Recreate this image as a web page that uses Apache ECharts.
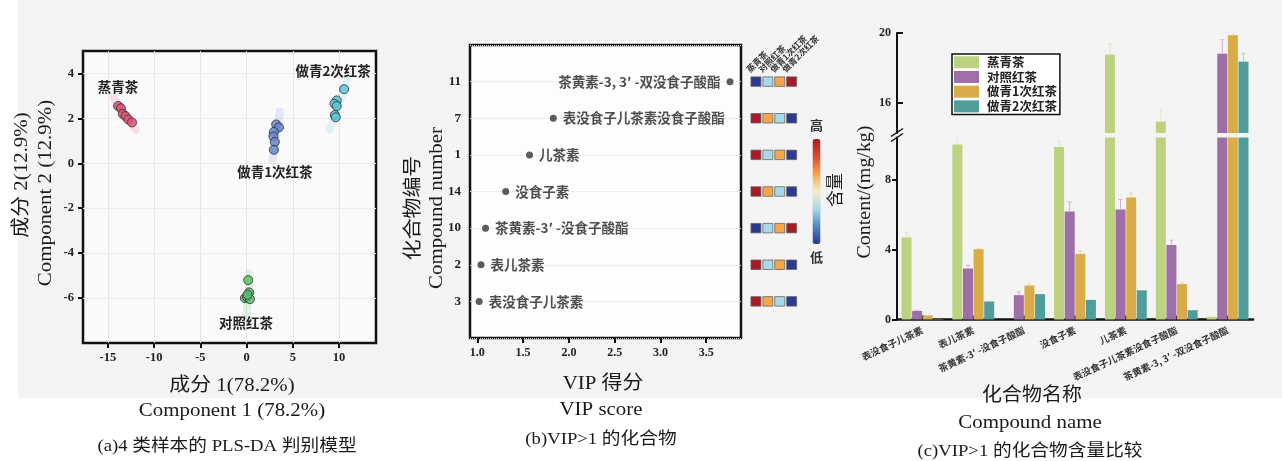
<!DOCTYPE html>
<html><head><meta charset="utf-8">
<script src="https://cdn.jsdelivr.net/npm/echarts@6/dist/echarts.min.js"></script>
<style>html,body{margin:0;padding:0;background:#fff}#c{width:1282px;height:461px}</style>
</head><body><div id="c"></div>
<script>
// ---------------- DATA ----------------
// (a) PLS-DA scores [component1, component2]
const groupNames = ['蒸青茶', '对照红茶', '做青1次红茶', '做青2次红茶'];
const plsSteamed = [[-13.9, 2.55], [-13.6, 2.45], [-13.4, 2.2], [-13.1, 2.1], [-12.8, 1.95], [-12.4, 1.82]];
const plsControl = [[0.17, -5.2], [0.28, -5.75], [-0.18, -6.0], [0.05, -5.95], [0.36, -6.05], [0.1, -5.85]];
const plsOnce = [[3.2, 1.73], [3.5, 1.6], [2.95, 1.4], [2.9, 1.2], [3.05, 0.95], [2.95, 0.6]];
const plsTwice = [[10.55, 3.3], [9.75, 2.8], [9.5, 2.65], [9.75, 2.55], [9.55, 2.15], [9.65, 2.05]];
// faint confidence-region axes (end points)
const ellSteamed = [[-14.4, 2.9], [-12.0, 1.5]];
const ellControl = [[0.0, -6.8], [0.35, -4.9]];
const ellOnce = [[2.8, 0.1], [3.6, 2.3]];
const ellTwice = [[9.0, 1.5], [10.9, 3.7]];
const plsXTicks = [-15, -10, -5, 0, 5, 10];
const plsYTicks = [-6, -4, -2, 0, 2, 4];

// (b) VIP > 1
const vipNumbers = ['3', '2', '10', '14', '1', '7', '11'];
const vipNames = ['表没食子儿茶素', '表儿茶素', '茶黄素-3′ -没食子酸酯', '没食子素', '儿茶素', '表没食子儿茶素没食子酸酯', '茶黄素-3, 3′ -双没食子酸酯'];
const vipScores = [1.02, 1.04, 1.09, 1.31, 1.57, 1.83, 3.76];
const vipXTicks = [1.0, 1.5, 2.0, 2.5, 3.0, 3.5];
// relative content rank (1 = low, 4 = high) per compound, columns = groupNames
const heatRanks = [
  [4, 3, 2, 1],
  [4, 2, 3, 1],
  [1, 2, 3, 4],
  [4, 3, 2, 1],
  [4, 2, 3, 1],
  [4, 3, 2, 1],
  [1, 2, 3, 4]
];

// (c) content, mg/kg
const contentNames = ['表没食子儿茶素', '表儿茶素', '茶黄素-3′ -没食子酸酯', '没食子素', '儿茶素', '表没食子儿茶素没食子酸酯', '茶黄素-3, 3′ -双没食子酸酯'];
const contSteamed = [4.69, 10.0, 0, 9.86, 18.77, 14.95, 0.15];
const contControl = [0.49, 2.91, 1.39, 6.17, 6.29, 4.26, 18.82];
const contOnce = [0.23, 4.02, 1.94, 3.75, 6.97, 2.02, 19.87];
const contTwice = [0.03, 1.03, 1.45, 1.12, 1.67, 0.53, 18.37];
const sdSteamed = [0.26, 0.4, 0, 0.34, 0.63, 0.67, 0];
const sdControl = [0.03, 0.19, 0.19, 0.55, 0.57, 0.27, 0.8];
const sdOnce = [0, 0.05, 0.05, 0.17, 0.26, 0.07, 0.47];
const sdTwice = [0, 0, 0, 0, 0, 0, 0.45];
const contLowTicks = [0, 4, 8];
const contHighTicks = [16, 20];

// ---------------- STYLE ----------------
const SERIF = '"Liberation Serif","Noto Sans CJK SC",serif';
const CJK = '"Noto Sans CJK SC","Noto Sans",sans-serif';
const plsColors = ['#e05476', '#5cbf6c', '#6a87d4', '#5cc5da'];
const barColors = ['#bcd27f', '#9d6ea7', '#d9ac48', '#4f9e9a'];
const errColors = ['#dfe9bd', '#cdb3d4', '#eed79f', '#a9d1cf'];

const chart = echarts.init(document.getElementById('c'), null, {renderer: 'canvas', width: 1282, height: 461});

const plsSets = [plsSteamed, plsControl, plsOnce, plsTwice];
const ellSets = [ellSteamed, ellControl, ellOnce, ellTwice];
const contSets = [contSteamed, contControl, contOnce, contTwice];
const sdSets = [sdSteamed, sdControl, sdOnce, sdTwice];

const padCats = [''].concat(vipNumbers, ['']);

const series = [];
// (a)
ellSets.forEach((d, i) => series.push({
  type: 'line', name: 'ell' + i, xAxisIndex: 0, yAxisIndex: 0, data: d, symbol: 'none', silent: true,
  lineStyle: {width: 8, color: plsColors[i], opacity: 0.16, cap: 'round'}, z: 1
}));
plsSets.forEach((d, i) => series.push({
  type: 'scatter', name: 'pls' + i, xAxisIndex: 0, yAxisIndex: 0, data: d, symbolSize: 9,
  itemStyle: {color: plsColors[i], borderColor: '#333', borderWidth: 1, opacity: 0.85}, z: 3
}));
// (b)
series.push({
  type: 'scatter', name: 'vip', xAxisIndex: 1, yAxisIndex: 1, symbolSize: 7,
  itemStyle: {color: '#333'},
  data: vipScores.map((v, i) => ({value: [v, vipNumbers[i]], label: {position: i === vipScores.length - 1 ? 'left' : 'right'}})),
  label: {show: true, distance: 6, formatter: p => vipNames[p.dataIndex], fontFamily: CJK, fontWeight: 'bold', fontSize: 13.5, color: '#222'}
});
const heatData = [];
heatRanks.forEach((row, r) => row.forEach((v, c) => heatData.push([groupNames[c], vipNumbers[r], v])));
series.push({
  type: 'scatter', name: 'heat', xAxisIndex: 2, yAxisIndex: 2, symbol: 'rect', symbolSize: [10, 9.5],
  itemStyle: {borderColor: '#666', borderWidth: 0.8, opacity: 1}, data: heatData
});
const heatIdx = series.length - 1;
// (c) bars: lower grid (xAxis 4) then upper grid (xAxis 3)
[4, 3].forEach(ax => contSets.forEach((d, i) => series.push({
  type: 'bar', name: groupNames[i], xAxisIndex: ax, yAxisIndex: ax, data: d, barWidth: 10, barGap: '6%',
  itemStyle: {color: barColors[i]}, clip: true
})));
const errData = [];
sdSets.forEach((sd, s) => sd.forEach((e, c) => { if (e > 0) errData.push([c, contSets[s][c], e, s]); }));
function errRender(params, api) {
  const c = api.value(0), v = api.value(1), e = api.value(2), s = api.value(3);
  const p0 = api.coord([c, v]);
  const p1 = api.coord([c, v + e]);
  const x = p0[0] + (s - 1.5) * 10.6;
  const st = {stroke: errColors[s], lineWidth: 1};
  return {type: 'group', children: [
    {type: 'line', shape: {x1: x, y1: p0[1], x2: x, y2: p1[1]}, style: st},
    {type: 'line', shape: {x1: x - 2, y1: p1[1], x2: x + 2, y2: p1[1]}, style: st}
  ]};
}
[4, 3].forEach(ax => series.push({
  type: 'custom', name: 'err' + ax, xAxisIndex: ax, yAxisIndex: ax, data: errData, renderItem: errRender, clip: true, z: 3, silent: true
}));

const boldLbl = (size) => ({fontFamily: SERIF, fontWeight: 'bold', fontSize: size, color: '#222'});
const noLine = {show: false, onZero: false};

const option = {
  backgroundColor: '#fff',
  animation: false,
  grid: [
    {left: 83, top: 51, width: 293, height: 292, show: true, borderColor: '#111', borderWidth: 2.5, backgroundColor: '#fafafa'},
    {left: 470, top: 45, width: 271, height: 293, show: true, borderColor: '#111', borderWidth: 2.5, backgroundColor: '#fdfdfd'},
    {left: 750, top: 45, width: 47.6, height: 293},
    {left: 897, top: 33, width: 356, height: 100},
    {left: 897, top: 137.5, width: 356, height: 182}
  ],
  xAxis: [
    {type: 'value', gridIndex: 0, min: -17.7, max: 14, minInterval: 5, maxInterval: 5,
      axisLine: noLine,
      axisTick: {show: true, customValues: plsXTicks, length: 5, lineStyle: {color: '#111', width: 2}},
      axisLabel: {customValues: plsXTicks, margin: 9, ...boldLbl(12.5)},
      splitLine: {show: true, lineStyle: {color: '#e6e6e6', width: 1}}},
    {type: 'value', gridIndex: 1, min: 0.92, max: 3.88,
      axisLine: noLine,
      axisTick: {show: true, customValues: vipXTicks, length: 5, lineStyle: {color: '#111', width: 2}},
      axisLabel: {customValues: vipXTicks, margin: 9, formatter: v => v.toFixed(1), ...boldLbl(12)},
      splitLine: {show: false}},
    {type: 'category', gridIndex: 2, data: groupNames, boundaryGap: true,
      axisLine: noLine, axisTick: {show: false}, splitLine: {show: false}, axisLabel: {show: false}},
    {type: 'category', gridIndex: 3, data: contentNames, show: false},
    {type: 'category', gridIndex: 4, data: contentNames,
      axisLine: {onZero: false, lineStyle: {color: '#111', width: 2.5}},
      axisTick: {show: true, inside: true, alignWithLabel: true, length: 4, lineStyle: {color: '#111', width: 2}},
      axisLabel: {interval: 0, rotate: 25, margin: 10, fontFamily: CJK, fontWeight: 'bold', fontSize: 9.5, color: '#333'}}
  ],
  yAxis: [
    {type: 'value', gridIndex: 0, min: -8, max: 5, minInterval: 2, maxInterval: 2,
      axisLine: noLine,
      axisTick: {show: true, customValues: plsYTicks, length: 5, lineStyle: {color: '#111', width: 2}},
      axisLabel: {customValues: plsYTicks, margin: 9, ...boldLbl(12.5)},
      splitLine: {show: true, lineStyle: {color: '#ececec', width: 1}}},
    {type: 'category', gridIndex: 1, data: padCats, boundaryGap: false,
      axisLine: noLine, axisTick: {show: false},
      axisLabel: {margin: 9, ...boldLbl(13)},
      splitLine: {show: true, lineStyle: {color: '#dedede', type: 'dotted', width: 1}}},
    {type: 'category', gridIndex: 2, data: padCats, boundaryGap: false, show: false},
    {type: 'value', gridIndex: 3, min: 14.3, max: 20,
      axisLine: {show: true, onZero: false, lineStyle: {color: '#111', width: 2}},
      axisTick: {show: true, inside: true, customValues: contHighTicks, length: 6, lineStyle: {color: '#111', width: 2}},
      axisLabel: {customValues: contHighTicks, margin: 6, ...boldLbl(12)},
      splitLine: {show: false}},
    {type: 'value', gridIndex: 4, min: 0, max: 10.4,
      axisLine: {show: true, onZero: false, lineStyle: {color: '#111', width: 2}},
      axisTick: {show: true, customValues: contLowTicks, length: 5, lineStyle: {color: '#111', width: 2}},
      axisLabel: {customValues: contLowTicks, margin: 6, ...boldLbl(12)},
      splitLine: {show: false}}
  ],
  visualMap: [{
    type: 'continuous', seriesIndex: heatIdx, dimension: 2, min: 1, max: 4, calculable: false,
    orient: 'vertical', left: 795, top: 104, itemWidth: 8, itemHeight: 105, text: ['高', '低'], textGap: 7,
    textStyle: {fontFamily: CJK, fontWeight: 'bold', fontSize: 13, color: '#333'},
    inRange: {color: ['#2b3990', '#4f86c0', '#a8d8ea', '#f3f0c6', '#f6a64a', '#dd4a30', '#a51c26']}
  }],
  legend: {
    data: groupNames, left: 952, top: 54, orient: 'vertical', icon: 'rect', itemWidth: 25, itemHeight: 12, itemGap: 2.2,
    borderColor: '#111', borderWidth: 1.5, padding: [2, 3, 2, 2], backgroundColor: '#fff', selectedMode: false,
    textStyle: {fontFamily: CJK, fontWeight: 'bold', fontSize: 12.5, color: '#222', padding: [0, 0, 0, 3]}
  },
  series: series
};
chart.setOption(option);

// ---------------- TEXT / DECORATION ----------------
function txt(t, x, y, size, opts) {
  opts = opts || {};
  const al = opts.align || 'center', va = opts.valign || 'middle';
  return {
    type: 'text', x: x, y: y, rotation: opts.rot || 0, scaleX: opts.sx || 1, z: 50, silent: true,
    style: {text: t, fontFamily: opts.family || SERIF, fontSize: size, fontWeight: opts.weight || 'normal',
      fill: opts.color || '#1a1a1a', align: al, verticalAlign: va, textAlign: al, textVerticalAlign: va}
  };
}
const R = Math.PI / 2;
const graphics = [
  {type: 'rect', shape: {x: 18, y: 0, width: 1264, height: 398}, style: {fill: '#f4f4f4'}, z: -10, silent: true},
  txt('成分 2(12.9%)', 22, 175, 19, {rot: R, sx: 1.1}),
  txt('Component 2 (12.9%)', 46, 193, 19, {rot: R, sx: 1.1}),
  txt('成分 1(78.2%)', 232, 386, 19, {sx: 1.1}),
  txt('Component 1 (78.2%)', 232, 411, 19, {sx: 1.1}),
  txt('(a)4 类样本的 PLS-DA 判别模型', 227, 447, 17, {sx: 1.1}),
  txt('化合物编号', 414, 208, 19, {rot: R, sx: 1.1}),
  txt('Compound number', 437, 208, 19, {rot: R, sx: 1.1}),
  txt('VIP 得分', 603, 384, 19, {sx: 1.1}),
  txt('VIP score', 601, 410, 19, {sx: 1.1}),
  txt('(b)VIP>1 的化合物', 601, 440, 17, {sx: 1.1}),
  txt('含量', 837, 190, 17, {rot: R}),
  txt('Content/(mg/kg)', 865, 192, 19, {rot: R, sx: 1.05}),
  txt('化合物名称', 1032, 396, 19, {sx: 1.05}),
  txt('Compound name', 1030, 423, 19, {sx: 1.1}),
  txt('(c)VIP>1 的化合物含量比较', 1030, 452, 17, {sx: 1.1})
];
// axis-break marks on the content axis, placed between the two value grids
const topLow = chart.convertToPixel({gridIndex: 4}, [0, 10.4]);
const bx = 897, by = topLow[1] - 2;
graphics.push({type: 'line', shape: {x1: bx - 6, y1: by + 1, x2: bx + 6, y2: by - 7}, style: {stroke: '#111', lineWidth: 1.5}, z: 60});
graphics.push({type: 'line', shape: {x1: bx - 6, y1: by + 6, x2: bx + 6, y2: by - 2}, style: {stroke: '#111', lineWidth: 1.5}, z: 60});
// heat-map column headers, slanted, above the first row
const topRow = vipNumbers[vipNumbers.length - 1];
groupNames.forEach(g => {
  const p = chart.convertToPixel({gridIndex: 2}, [g, topRow]);
  graphics.push(txt(g, p[0] - 5, p[1] - 8, 8.5, {rot: Math.PI / 4, align: 'left', valign: 'bottom', family: CJK, weight: 'bold', color: '#333'}));
});
// cluster labels placed relative to each cluster's extreme point
const labelSpec = [
  {g: 0, pick: 'top', dx: 0, dy: -19},
  {g: 1, pick: 'bottom', dx: -4, dy: 24},
  {g: 2, pick: 'bottom', dx: 1, dy: 22},
  {g: 3, pick: 'top', dx: -11, dy: -18}
];
labelSpec.forEach(s => {
  const pts = plsSets[s.g].slice().sort((a, b) => s.pick === 'top' ? b[1] - a[1] : a[1] - b[1]);
  const px = chart.convertToPixel({gridIndex: 0}, pts[0]);
  graphics.push(txt(groupNames[s.g], px[0] + s.dx, px[1] + s.dy, 13.5, {family: CJK, weight: 'bold', color: '#222'}));
});
chart.setOption({graphic: graphics});
</script>
</body></html>
